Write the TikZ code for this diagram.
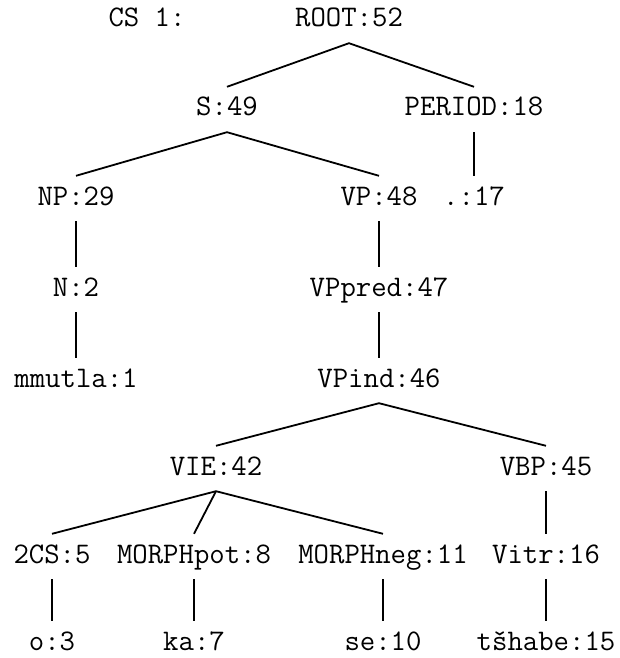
\documentclass[tikz,border=0pt]{standalone}
\usepackage{fontspec}
\begin{document}
\begin{tikzpicture}[x=1pt,y=-1pt,
  lab/.style={inner xsep=0pt, inner ysep=0pt, text height=29pt, text depth=16pt,
    font=\ttfamily\fontsize{29.9}{34}\selectfont},
  branch/.style={line width=1.8pt}]
\useasboundingbox (0,0) rectangle (620,658);
% node centres sit 2.5 below the visual middle of the glyphs
\def\yoff{2.5}
\node[lab] (cs)     at (147, 18+\yoff) {CS 1:};
\node[lab] (root)   at (349, 18+\yoff) {ROOT:52};
\node[lab] (s)      at (227,107+\yoff) {S:49};
\node[lab] (period) at (474,107+\yoff) {PERIOD:18};
\node[lab] (np)     at ( 76,196+\yoff) {NP:29};
\node[lab] (vp)     at (379,196+\yoff) {VP:48};
\node[lab] (dot)    at (474,196+\yoff) {.:17};
\node[lab] (n)      at ( 76,287+\yoff) {N:2};
\node[lab] (vppred) at (379,287+\yoff) {VPpred:47};
\node[lab] (mmutla) at ( 76,378+\yoff) {mmutla:1};
\node[lab] (vpind)  at (379,378+\yoff) {VPind:46};
\node[lab] (vie)    at (216,466+\yoff) {VIE:42};
\node[lab] (vbp)    at (546,466+\yoff) {VBP:45};
\node[lab] (cstwo)  at ( 52,554+\yoff) {2CS:5};
\node[lab] (mpot)   at (194,554+\yoff) {MORPHpot:8};
\node[lab] (mneg)   at (383,554+\yoff) {MORPHneg:11};
\node[lab] (vitr)   at (546,554+\yoff) {Vitr:16};
\node[lab] (o)      at ( 52,641+\yoff) {o:3};
\node[lab] (ka)     at (194,641+\yoff) {ka:7};
\node[lab] (se)     at (383,641+\yoff) {se:10};
\node[lab] (tshabe) at (546,641+\yoff) {tšhabe:15};
% branches of the tree
\draw[branch] (s.north) -- (root.south) -- (period.north);
\draw[branch] (np.north) -- (s.south) -- (vp.north);
\draw[branch] (period.south) -- (dot.north);
\draw[branch] (np.south) -- (n.north);
\draw[branch] (n.south) -- (mmutla.north);
\draw[branch] (vp.south) -- (vppred.north);
\draw[branch] (vppred.south) -- (vpind.north);
\draw[branch] (vie.north) -- (vpind.south) -- (vbp.north);
\draw[branch] (vie.south) -- (cstwo.north);
\draw[branch] (vie.south) -- (mpot.north);
\draw[branch] (vie.south) -- (mneg.north);
\draw[branch] (vbp.south) -- (vitr.north);
\draw[branch] (cstwo.south) -- (o.north);
\draw[branch] (mpot.south) -- (ka.north);
\draw[branch] (mneg.south) -- (se.north);
\draw[branch] (vitr.south) -- (tshabe.north);
\end{tikzpicture}
\end{document}
